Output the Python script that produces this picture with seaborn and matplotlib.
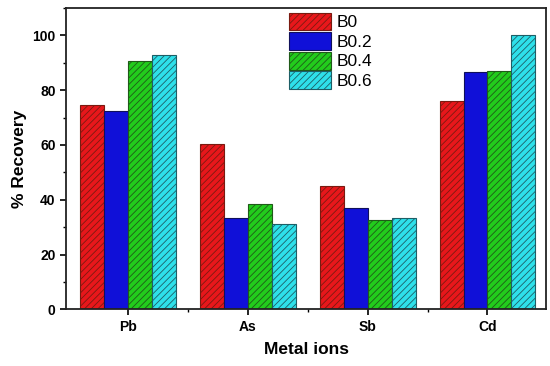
import pandas as pd
import seaborn as sns
from matplotlib import pyplot as plt
from matplotlib.ticker import MultipleLocator, FixedLocator

metals = ["Pb", "As", "Sb", "Cd"]
series = ["B0", "B0.2", "B0.4", "B0.6"]
b0 = [74.5, 60.2, 45.0, 76.0]
b02 = [72.5, 33.5, 37.0, 86.5]
b04 = [90.5, 38.5, 32.5, 87.0]
b06 = [93.0, 31.0, 33.5, 100.0]

COLORS = ["#e8171b", "#1010d8", "#22cc1c", "#2ee0ea"]
EDGES = ["#7a1a10", "#10105a", "#1f5a18", "#1d5e66"]
HATCHES = ["/////", "", "/////", "/////"]

sns.set_style("ticks")
plt.rcParams["font.family"] = ["Liberation Sans", "DejaVu Sans"]
plt.rcParams["font.weight"] = "bold"
plt.rcParams["hatch.linewidth"] = 0.6
plt.rcParams["text.color"] = "black"
plt.rcParams["axes.labelcolor"] = "black"
plt.rcParams["xtick.color"] = "black"
plt.rcParams["ytick.color"] = "black"

df = pd.DataFrame({
    "metal": metals * 4,
    "series": [s for s in series for _ in metals],
    "recovery": b0 + b02 + b04 + b06,
})

fig, ax = plt.subplots(figsize=(5.5, 3.66), dpi=100)
sns.barplot(
    ax=ax,
    data=df,
    x="metal",
    y="recovery",
    hue="series",
    palette=COLORS,
    width=0.8,
    saturation=1,
    errorbar=None,
)

for container, edge, hatch in zip(ax.containers, EDGES, HATCHES):
    for bar in container:
        bar.set_edgecolor(edge)
        bar.set_hatch(hatch)
        bar.set_linewidth(0.8)

ax.set_ylim(0, 110)
ax.set_xlim(-0.52, 3.49)
ax.yaxis.set_major_locator(MultipleLocator(20))
ax.yaxis.set_minor_locator(MultipleLocator(10))
ax.xaxis.set_minor_locator(FixedLocator([0.5, 1.5, 2.5]))
ax.tick_params(axis="both", which="major", length=4, width=1.2, labelsize=10)
ax.tick_params(axis="both", which="minor", length=2.5, width=1.0)
for lab in ax.get_xticklabels() + ax.get_yticklabels():
    lab.set_fontweight("bold")
for spine in ax.spines.values():
    spine.set_visible(True)
    spine.set_linewidth(1.3)
    spine.set_color("#222222")

ax.set_xlabel("Metal ions", fontsize=12.5, fontweight="bold", labelpad=6)
ax.set_ylabel("% Recovery", fontsize=12.5, fontweight="bold", labelpad=4)

handles, labels = ax.get_legend_handles_labels()
for h, edge, hatch in zip(handles, EDGES, HATCHES):
    h.set_edgecolor(edge)
    h.set_hatch(hatch)
    h.set_linewidth(0.8)
leg = ax.legend(
    handles, labels,
    loc="upper left",
    bbox_to_anchor=(0.44, 1.025),
    frameon=False,
    fontsize=12.5,
    handlelength=2.4,
    handleheight=1.2,
    handletextpad=0.3,
    labelspacing=0.1,
    borderpad=0.2,
)
for text in leg.get_texts():
    text.set_fontweight("normal")

plt.subplots_adjust(left=0.12, right=0.993, top=0.978, bottom=0.155)
plt.savefig("out.png", dpi=100)
plt.close()
